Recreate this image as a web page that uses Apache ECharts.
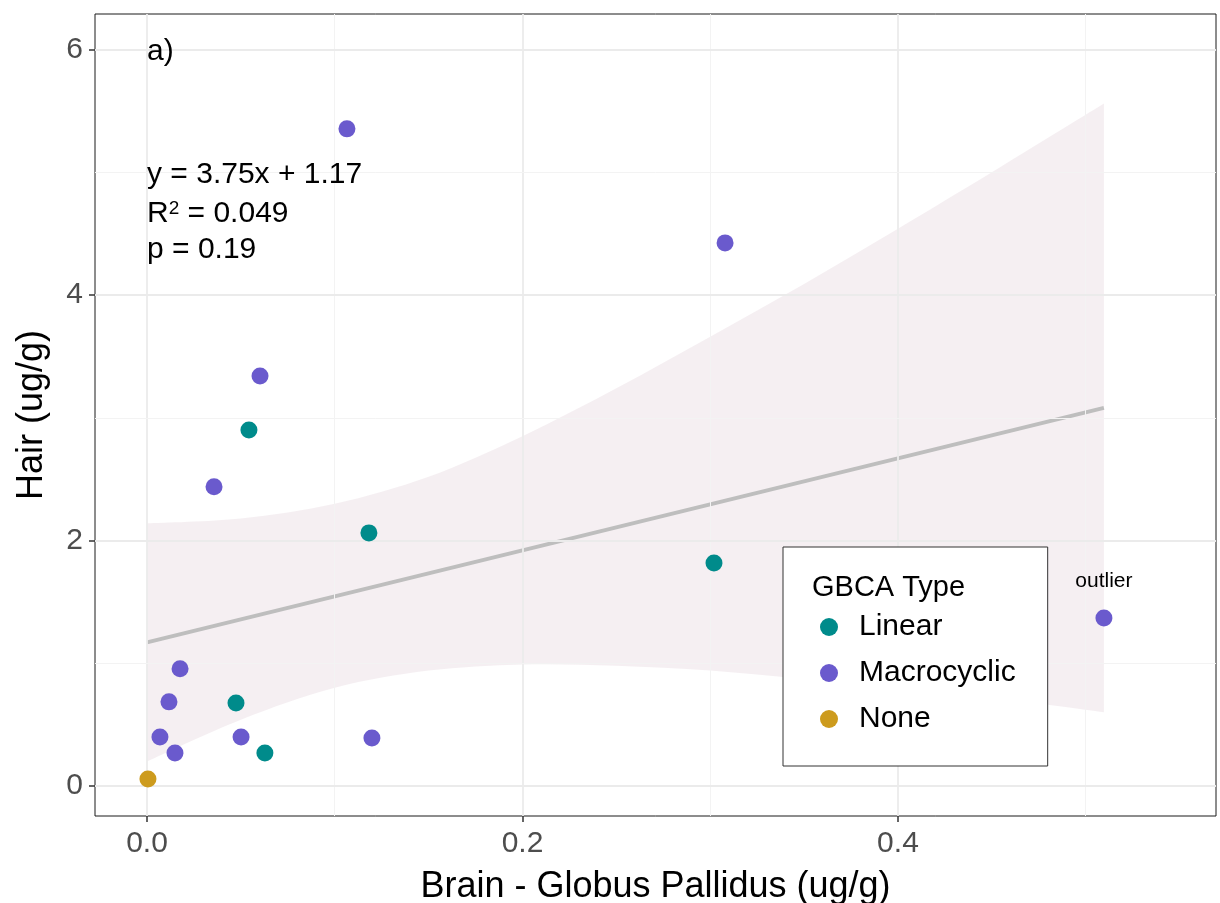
<!DOCTYPE html>
<html><head><meta charset="utf-8">
<script src="https://cdn.jsdelivr.net/npm/echarts@6/dist/echarts.min.js"></script>
<style>html,body{margin:0;padding:0;background:#fff}#c{width:1220px;height:903px}</style>
</head><body><div id="c"></div>
<script>
// ---- data ----
const linearX = [0.0543, 0.1182, 0.0474, 0.0628, 0.3020];
const linearY = [2.901, 2.062, 0.676, 0.269, 1.817];
const macroX = [0.1065, 0.3079, 0.0602, 0.0357, 0.0176, 0.0117, 0.0069, 0.0149, 0.0501, 0.1198, 0.5097];
const macroY = [5.354, 4.425, 3.341, 2.437, 0.954, 0.685, 0.399, 0.269, 0.399, 0.391, 1.369];
const macroLabels = ['', '', '', '', '', '', '', '', '', '', 'outlier'];
const noneX = [0.0005];
const noneY = [0.057];
const fitX = [0, 0.5097];
const fitY = [1.17, 3.081];
const bandX = [0, 0.05, 0.10, 0.15, 0.20, 0.25, 0.30, 0.35, 0.40, 0.45, 0.5097];
const bandUpper = [2.14, 2.18, 2.30, 2.52, 2.85, 3.24, 3.66, 4.09, 4.54, 5.00, 5.56];
const bandLower = [0.20, 0.54, 0.80, 0.94, 0.99, 0.98, 0.94, 0.87, 0.80, 0.72, 0.60];
const xTicks = [0, 0.2, 0.4];
const xMinor = [0.1, 0.3, 0.5];
const yTicks = [0, 2, 4, 6];
const yMinor = [1, 3, 5];
const annotX = [0, 0, 0, 0];
const annotY = [5.98, 4.98, 4.66, 4.37];
const annotText = ['a)', 'y = 3.75x + 1.17', '{r|R}{sup|2}{r| = 0.049}', 'p = 0.19'];
const categories = ['Linear', 'Macrocyclic', 'None'];
const colors = ['#008b8b', '#6a5acd', '#cd9b1d'];

const FONT = 'Liberation Sans, Arial, sans-serif';
const zip = (xs, ys) => xs.map((x, i) => [x, ys[i]]);

const gridLines = [];
xTicks.forEach(v => gridLines.push({xAxis: v, lineStyle: {color: '#ebebeb', width: 1.8, type: 'solid'}}));
xMinor.forEach(v => gridLines.push({xAxis: v, lineStyle: {color: '#f3f3f3', width: 1, type: 'solid'}}));
yTicks.forEach(v => gridLines.push({yAxis: v, lineStyle: {color: '#ebebeb', width: 1.8, type: 'solid'}}));
yMinor.forEach(v => gridLines.push({yAxis: v, lineStyle: {color: '#f3f3f3', width: 1, type: 'solid'}}));

// Catmull-Rom path through pixel points (points already mapped by the axes)
function curve(pts, start) {
  let d = start ? 'M' + pts[0][0] + ' ' + pts[0][1] : 'L' + pts[0][0] + ' ' + pts[0][1];
  for (let i = 0; i < pts.length - 1; i++) {
    const p0 = pts[Math.max(i - 1, 0)], p1 = pts[i], p2 = pts[i + 1], p3 = pts[Math.min(i + 2, pts.length - 1)];
    const c1 = [p1[0] + (p2[0] - p0[0]) / 6, p1[1] + (p2[1] - p0[1]) / 6];
    const c2 = [p2[0] - (p3[0] - p1[0]) / 6, p2[1] - (p3[1] - p1[1]) / 6];
    d += ' C' + c1[0] + ' ' + c1[1] + ' ' + c2[0] + ' ' + c2[1] + ' ' + p2[0] + ' ' + p2[1];
  }
  return d;
}

const chart = echarts.init(document.getElementById('c'), null, {renderer: 'canvas'});
chart.setOption({
  animation: false,
  backgroundColor: '#fff',
  textStyle: {fontFamily: FONT},
  grid: {left: 95, right: 4, top: 14, bottom: 87, containLabel: false, outerBoundsMode: 'none',
         show: true, borderColor: '#1a1a1a', borderWidth: 1, backgroundColor: 'transparent'},
  xAxis: {
    type: 'value', min: -0.0277, max: 0.5694,
    axisLine: {show: false, onZero: false},
    splitLine: {show: false},
    axisTick: {show: true, length: 6, lineStyle: {color: '#333', width: 1.5}, customValues: xTicks},
    axisLabel: {customValues: xTicks, formatter: v => v.toFixed(1), fontSize: 30, color: '#4d4d4d', margin: 13, fontFamily: FONT},
    name: 'Brain - Globus Pallidus (ug/g)', nameLocation: 'middle', nameGap: 53,
    nameTextStyle: {fontSize: 36, color: '#000', fontFamily: FONT}
  },
  yAxis: {
    type: 'value', min: -0.245, max: 6.29,
    axisLine: {show: false, onZero: false},
    splitLine: {show: false},
    axisTick: {show: true, length: 6, lineStyle: {color: '#333', width: 1.5}, customValues: yTicks},
    axisLabel: {customValues: yTicks, formatter: v => String(v), fontSize: 30, color: '#4d4d4d', margin: 12, fontFamily: FONT},
    name: 'Hair (ug/g)', nameLocation: 'middle', nameGap: 45,
    nameTextStyle: {fontSize: 36, color: '#000', fontFamily: FONT}
  },
  title: {
    text: 'GBCA Type', left: 807, top: 568, z: 20,
    textStyle: {fontSize: 29, fontWeight: 'normal', color: '#000', fontFamily: FONT}
  },
  legend: {
    data: categories, orient: 'vertical', left: 783, top: 547,
    icon: 'circle', itemWidth: 18, itemHeight: 18, itemGap: 16,
    selectedMode: false, z: 10,
    padding: [65, 32, 32, 37],
    borderColor: '#333', borderWidth: 1, backgroundColor: '#fff', borderRadius: 0,
    textStyle: {fontSize: 30, color: '#000', fontFamily: FONT, padding: [0, 0, 0, 16]}
  },
  series: [
    {
      type: 'line', name: 'grid', data: [], silent: true, z: 0,
      markLine: {silent: true, symbol: 'none', label: {show: false}, animation: false, data: gridLines}
    },
    {
      type: 'custom', name: 'band', silent: true, z: 1,
      data: bandX.map((x, i) => [x, bandUpper[i], bandLower[i]]),
      encode: {x: 0, y: [1, 2]},
      renderItem: (params, api) => {
        if (params.dataIndex !== 0) return null;
        const up = bandX.map((x, i) => api.coord([x, bandUpper[i]]));
        const lo = bandX.map((x, i) => api.coord([x, bandLower[i]])).reverse();
        const d = curve(up, true) + ' ' + curve(lo, false) + ' Z';
        return {type: 'path', shape: {pathData: d}, style: {fill: 'rgba(232, 218, 223, 0.42)', stroke: null}};
      }
    },
    {
      type: 'line', name: 'fit', data: zip(fitX, fitY), symbol: 'none', silent: true, z: 2,
      lineStyle: {color: '#bebebe', width: 4}
    },
    {
      type: 'scatter', name: 'Linear', data: zip(linearX, linearY), symbolSize: 17, z: 5,
      itemStyle: {color: colors[0], opacity: 1}
    },
    {
      type: 'scatter', name: 'Macrocyclic', symbolSize: 17, z: 5,
      itemStyle: {color: colors[1], opacity: 1},
      data: macroX.map((x, i) => macroLabels[i] ? {
        value: [x, macroY[i]],
        label: {show: true, formatter: macroLabels[i], position: 'top', distance: 18, fontSize: 21, color: '#000', fontFamily: FONT}
      } : [x, macroY[i]])
    },
    {
      type: 'scatter', name: 'None', data: zip(noneX, noneY), symbolSize: 17, z: 5,
      itemStyle: {color: colors[2], opacity: 1}
    },
    {
      type: 'scatter', name: 'annot', symbolSize: 0, silent: true, z: 6,
      itemStyle: {opacity: 1},
      data: annotX.map((x, i) => ({value: [x, annotY[i]], label: {formatter: annotText[i]}})),
      label: {
        show: true, position: 'right', distance: 0, fontSize: 30, color: '#000', fontFamily: FONT,
        textBorderWidth: 0, opacity: 1,
        rich: {
          r: {fontSize: 30, color: '#000', fontFamily: FONT},
          sup: {fontSize: 19, color: '#000', fontFamily: FONT, verticalAlign: 'top'}
        }
      }
    }
  ]
});
</script></body></html>
